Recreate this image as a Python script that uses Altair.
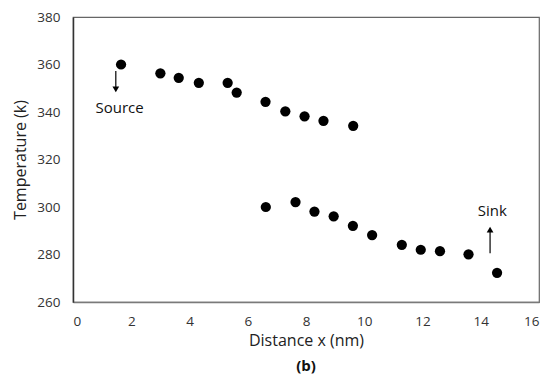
import altair as alt
import pandas as pd

# Data
x_upper = [1.65, 3.0, 3.63, 4.32, 5.31, 5.62, 6.61, 7.29, 7.95, 8.60, 9.62]
t_upper = [360, 356.3, 354.4, 352.3, 352.3, 348.2, 344.3, 340.3, 338.2, 336.3, 334.2]
x_lower = [6.62, 7.64, 8.29, 8.95, 9.61, 10.27, 11.29, 11.94, 12.6, 13.58, 14.56]
t_lower = [300.0, 302.1, 298.1, 296.1, 292.1, 288.2, 284.1, 282.0, 281.4, 280.1, 272.3]

x_ticks = [0, 2, 4, 6, 8, 10, 12, 14, 16]
y_ticks = [260, 280, 300, 320, 340, 360, 380]

labels = ["Source", "Sink"]
label_x = [1.6, 14.4]
label_y = [341.5, 298.5]

arrow_x = [1.47, 14.32]
arrow_start = [357.3, 280.5]
arrow_end = [349.5, 290.5]
arrow_shape = ["triangle-down", "triangle-up"]

pts = pd.DataFrame({"x": x_upper + x_lower, "t": t_upper + t_lower})
lab = pd.DataFrame({"label": labels, "x": label_x, "y": label_y})
arr = pd.DataFrame({"x": arrow_x, "y1": arrow_start, "y2": arrow_end, "shape": arrow_shape})

FONT = "Open Sans"

xscale = alt.Scale(domain=[0, 16], nice=False, zero=False)
yscale = alt.Scale(domain=[260, 380], nice=False, zero=False)

points = alt.Chart(pts).mark_point(filled=True, color="black", size=105, opacity=1).encode(
    x=alt.X("x:Q", scale=xscale,
            axis=alt.Axis(title="Distance x (nm)", values=x_ticks, grid=False, ticks=False,
                          labelPadding=12, titlePadding=5, labelFontSize=13.5, titleFontSize=16,
                          labelColor="#333", titleColor="#222", titleFontWeight="normal",
                          domainColor="#7a7a7a", domainWidth=1.5)),
    y=alt.Y("t:Q", scale=yscale,
            axis=alt.Axis(title="Temperature (k)", values=y_ticks, grid=False, ticks=False,
                          labelPadding=13, titlePadding=8, labelFontSize=13.5, titleFontSize=16,
                          labelColor="#333", titleColor="#222", titleFontWeight="normal",
                          domainColor="#333", domainWidth=1.5)),
)

rules = alt.Chart(arr).mark_rule(color="black", strokeWidth=1.2).encode(
    x="x:Q", y="y1:Q", y2="y2:Q"
)

heads = alt.Chart(arr).mark_point(filled=True, color="black", size=45, opacity=1).encode(
    x="x:Q", y="y2:Q",
    shape=alt.Shape("shape:N", scale=None, legend=None),
)

texts = alt.Chart(lab).mark_text(font=FONT, fontSize=15, color="#111").encode(
    x="x:Q", y="y:Q", text="label:N"
)

chart = alt.layer(points, rules, heads, texts).properties(
    width=466, height=285,
    title=alt.TitleParams("(b)", orient="bottom", font=FONT, fontSize=15,
                          fontWeight="bold", color="#111", offset=10),
    autosize=alt.AutoSizeParams(type="none"),
    padding={"left": 65, "top": 9, "right": 3, "bottom": 77},
).configure(font=FONT).configure_view(stroke="#666", strokeWidth=1.2)

chart.save("out.html", embed_options={"renderer": "svg", "actions": False})
